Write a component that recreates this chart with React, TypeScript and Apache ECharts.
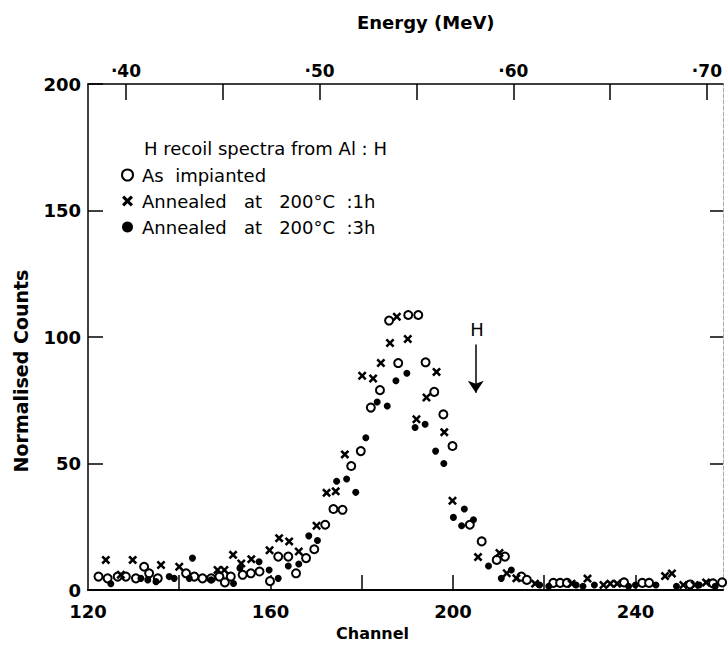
import React, { useEffect, useRef } from "react";
import * as echarts from "echarts";

// ---- data (channel, normalised counts) ----
const implantedCh = [122.3, 124.3, 126.5, 128.3, 130.5, 132.3, 133.4, 135.3, 141.5, 143.3, 145.1, 147, 148.8, 150, 151.3, 153.9, 155.7, 157.6, 159.9, 161.7, 163.9, 165.6, 167.8, 169.6, 172, 173.8, 175.8, 177.7, 179.8, 182, 184, 186, 188, 190.2, 192.4, 194, 195.9, 197.9, 199.9, 203.7, 206.3, 209.6, 211.4, 215, 216.2, 222, 223.5, 225, 237.5, 241.5, 243, 252, 257, 259];
const implantedVal = [5.3, 4.6, 5.3, 5.3, 4.6, 9.2, 6.6, 4.6, 6.6, 5.3, 4.6, 4.6, 5.3, 3.0, 5.3, 6.0, 6.6, 7.3, 3.5, 13.2, 13.2, 6.6, 12.6, 16.1, 25.8, 32, 31.7, 49, 54.9, 72.1, 79, 106.5, 89.7, 108.7, 108.7, 90, 78.3, 69.4, 56.9, 25.8, 19.2, 11.9, 13.2, 5.3, 4.0, 2.8, 2.8, 2.8, 3.0, 2.8, 2.8, 2.2, 2.6, 3.0];

const anneal1Ch = [123.9, 127.2, 129.8, 136, 140, 148.4, 149.9, 151.8, 153.6, 155.8, 159.8, 161.9, 164.1, 166.2, 170.1, 172.3, 174.3, 176.3, 180.1, 182.5, 184.2, 186.2, 187.7, 190.1, 192, 194.2, 196.4, 198.1, 199.9, 205.5, 210.2, 211.8, 213.9, 218, 226, 229.5, 233, 234.5, 236, 246.5, 248, 250.5, 253, 255.5];
const anneal1Val = [11.9, 6.0, 11.9, 9.9, 9.2, 7.9, 7.9, 13.9, 10.5, 12.2, 15.7, 20.5, 19.2, 15.2, 25.4, 38.4, 39, 53.6, 84.7, 83.6, 89.7, 97.6, 108, 99.2, 67.5, 76.1, 86.2, 62.4, 35.3, 13, 14.6, 6.6, 4.6, 2.5, 2.5, 4.5, 2.0, 2.5, 2.5, 5.5, 6.5, 2.0, 2.0, 3.0];

const anneal3Ch = [125, 131.6, 133.1, 134.9, 137.8, 138.9, 142.2, 142.9, 147, 151.9, 153.3, 157.5, 159.7, 161.7, 163.9, 166.2, 168.4, 170.3, 174.5, 176.7, 178.7, 180.9, 183.4, 185.6, 187.5, 189.9, 191.7, 193.9, 196.2, 198, 200.1, 201.9, 202.5, 204.5, 207.8, 210.6, 212.8, 219, 221, 227, 228.5, 231, 238.5, 240, 244.5, 249, 254, 257.5];
const anneal3Val = [2.5, 4.6, 4.0, 3.3, 5.3, 4.6, 4.6, 12.6, 4.0, 2.6, 8.6, 11.2, 7.9, 4.6, 9.5, 10.3, 21.4, 19.6, 43, 43.9, 38.6, 60.2, 74.3, 72.7, 82.7, 85.7, 64.2, 65.5, 54.9, 50, 28.7, 25.4, 32, 27.8, 9.5, 4.6, 7.9, 2.0, 1.5, 2.0, 1.5, 2.0, 1.5, 2.0, 2.0, 1.5, 2.0, 1.5];

const channelTicks = [140, 160, 180, 200, 220, 240];
const channelLabels = [120, 160, 200, 240];
const energyTicks = [0.4, 0.45, 0.5, 0.55, 0.6, 0.65, 0.7];
const energyLabels = [0.4, 0.5, 0.6, 0.7];
const countTicksRight = [50, 100, 150];
const arrowCh = 205;
const arrowFrom = 97;
const arrowTo = 78;

const FONT = "DejaVu Sans";
const CROSS = "path://M0,2 L2,0 L5,3 L8,0 L10,2 L7,5 L10,8 L8,10 L5,7 L2,10 L0,8 L3,5 Z";

const pairs = (xs: number[], ys: number[]) => xs.map((x, i) => [x, ys[i]]);

export default function App() {
  const ref = useRef<HTMLDivElement>(null);
  useEffect(() => {
    if (!ref.current) return;
    const chart = echarts.init(ref.current, undefined, { renderer: "svg" });
    const txt = { color: "#000", fontFamily: FONT, fontSize: 17, fontWeight: "bold" as const };
    chart.setOption({
      animation: false,
      backgroundColor: "#fff",
      title: [
        { text: "Energy (MeV)", left: 352, top: 8, textStyle: { ...txt, fontSize: 18 } },
        { text: "Channel", left: 331, top: 620, textStyle: { ...txt, fontSize: 16 } },
        { text: "H recoil spectra from Al : H", left: 139, top: 134, textStyle: { ...txt, fontSize: 18, fontWeight: "normal" } },
      ],
      legend: {
        orient: "vertical",
        left: 116,
        top: 161,
        itemGap: 8,
        itemWidth: 11,
        itemHeight: 11,
        textStyle: { ...txt, fontSize: 18, fontWeight: "normal", padding: [0, 0, 0, 4] },
        data: ["As  impianted", "Annealed   at   200°C  :1h", "Annealed   at   200°C  :3h"],
      },
      graphic: [
        {
          type: "text",
          x: 21,
          y: 371,
          rotation: Math.PI / 2,
          style: { text: "Normalised Counts", fill: "#000", font: `bold 19px "${FONT}"`, textAlign: "center", textVerticalAlign: "middle" },
        },
      ],
      grid: { left: 88, right: 4, top: 84, bottom: 59, containLabel: false },
      xAxis: [
        {
          type: "value",
          position: "bottom",
          min: 120,
          max: 259.2,
          axisLine: { show: true, onZero: false, lineStyle: { color: "#000", width: 2 } },
          axisTick: { show: true, inside: true, length: 15, lineStyle: { color: "#000", width: 1.5 }, customValues: channelTicks },
          axisLabel: { show: true, margin: 12, customValues: channelLabels, alignMinLabel: "center", alignMaxLabel: "center", ...txt, fontSize: 18 },
          splitLine: { show: false },
        },
        {
          type: "value",
          position: "top",
          min: 0.3804,
          max: 0.7083,
          axisLine: { show: true, onZero: false, lineStyle: { color: "#000", width: 1.5 } },
          axisTick: { show: true, inside: true, length: 16, lineStyle: { color: "#000", width: 1.5 }, customValues: energyTicks },
          axisLabel: {
            show: true,
            margin: 5,
            customValues: energyLabels,
            alignMinLabel: "center",
            alignMaxLabel: "center",
            formatter: (v: number) => "·" + Math.round(v * 100),
            ...txt,
            fontSize: 17,
          },
          splitLine: { show: false },
        },
      ],
      yAxis: [
        {
          type: "value",
          position: "left",
          min: 0,
          max: 200,
          interval: 50,
          axisLine: { show: true, onZero: false, lineStyle: { color: "#000", width: 1.5 } },
          axisTick: { show: true, inside: true, length: 15, lineStyle: { color: "#000", width: 1.5 } },
          axisLabel: { show: true, margin: 7, ...txt, fontSize: 18 },
          splitLine: { show: false },
        },
        {
          type: "value",
          position: "right",
          min: 0,
          max: 200,
          axisLine: { show: true, onZero: false, lineStyle: { color: "#aaa", width: 1, type: "dashed" } },
          axisTick: { show: true, inside: true, length: 13, lineStyle: { color: "#000", width: 1.5 }, customValues: countTicksRight },
          axisLabel: { show: false },
          splitLine: { show: false },
        },
      ],
      series: [
        {
          name: "As  impianted",
          type: "scatter",
          data: pairs(implantedCh, implantedVal),
          symbol: "circle",
          symbolSize: 8,
          itemStyle: { color: "#fff", borderColor: "#000", borderWidth: 2, opacity: 1 },
          z: 3,
        },
        {
          name: "Annealed   at   200°C  :1h",
          type: "scatter",
          data: pairs(anneal1Ch, anneal1Val),
          symbol: CROSS,
          symbolSize: 9,
          itemStyle: { color: "#000", opacity: 1 },
          z: 4,
        },
        {
          name: "Annealed   at   200°C  :3h",
          type: "scatter",
          data: pairs(anneal3Ch, anneal3Val),
          symbol: "circle",
          symbolSize: 7,
          itemStyle: { color: "#000", opacity: 1 },
          z: 4,
          markLine: {
            silent: true,
            symbol: ["none", "arrow"],
            symbolSize: 12,
            lineStyle: { color: "#000", width: 1.5, type: "solid" },
            label: { show: false },
            data: [[{ coord: [arrowCh, arrowFrom] }, { coord: [arrowCh, arrowTo] }]],
          },
          markPoint: {
            silent: true,
            symbol: "circle",
            symbolSize: 1,
            itemStyle: { color: "rgba(0,0,0,0)" },
            label: { show: true, position: "inside", formatter: "H", color: "#000", fontFamily: FONT, fontSize: 18 },
            data: [{ coord: [arrowCh + 0.3, 103] }],
          },
        },
      ],
    });
    return () => chart.dispose();
  }, []);
  return <div ref={ref} style={{ width: 727, height: 649, position: "absolute", left: 0, top: 0 }} />;
}
